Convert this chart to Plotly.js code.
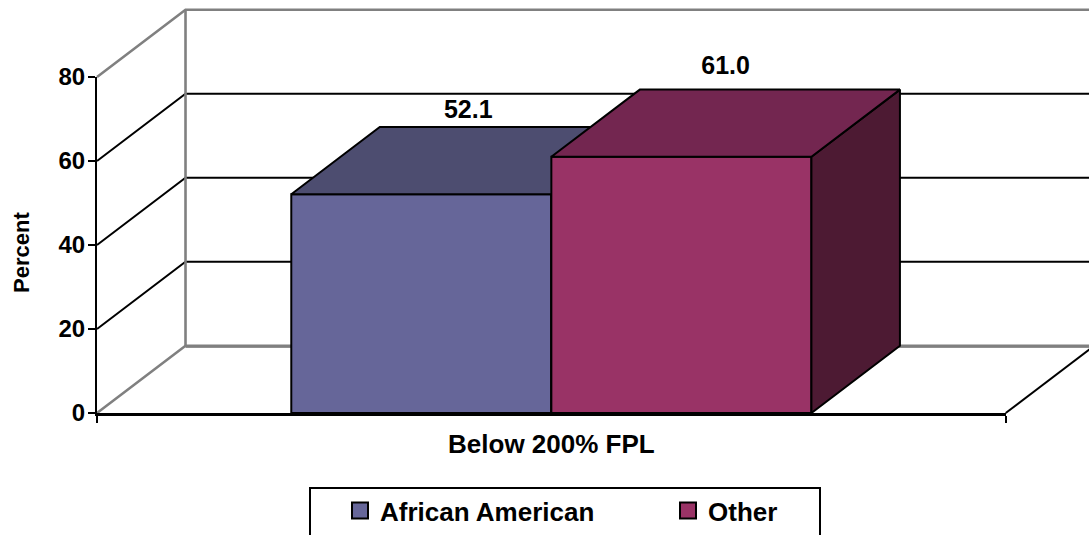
<!DOCTYPE html>
<html>
<head>
<meta charset="utf-8">
<script src="https://cdn.plot.ly/plotly-3.0.1.min.js"></script>
<style>html,body{margin:0;padding:0;background:#fff;overflow:hidden}</style>
</head>
<body>
<div id="chart" style="width:1089px;height:535px"></div>
<script>
var categories = ['Below 200% FPL'];
var seriesNames = ['African American', 'Other'];
var africanAmerican = [52.1];
var other = [61.0];
var valueLabels = ['52.1', '61.0'];
var labelPad = [0.75, 2.25];
var yTicks = [0, 20, 40, 60, 80];
var wallGrid = [20, 40, 60];
var frontColors = ['#666699', '#993366'];
var topColors = ['#4d4d70', '#732650'];
var sideColors = ['#4d4d70', '#4d1a33'];

var FONT = 'Liberation Sans, Arial, sans-serif';
var W = 1089, H = 535;
var plotL = 97, plotR = 1005.7, plotT = 77, plotB = 413;
var pxX = (plotR - plotL), pxY = (plotB - plotT) / 80;
var depthX = 0.0974, depthY = 16, barW = 0.2862, center = 0.5;
var farX = (W - plotL) / pxX;
var black = {color: '#000', width: 2};
var gray = {color: '#808080', width: 2.6};

function poly(xs, ys, color, ax) {
  return {type: 'scatter', mode: 'lines', x: xs, y: ys, fill: 'toself', fillcolor: color,
    line: black, cliponaxis: false, showlegend: false, hoverinfo: 'skip', xaxis: ax[0], yaxis: ax[1]};
}
function wallLine(level, line) {
  return {type: 'scatter', mode: 'lines', x: [0, depthX, farX], y: [level, level + depthY, level + depthY],
    line: line, showlegend: false, hoverinfo: 'skip'};
}
function plainLine(xs, ys, line) {
  return {type: 'scatter', mode: 'lines', x: xs, y: ys, line: line, showlegend: false, hoverinfo: 'skip'};
}
function barFront(values, i, offset, ax) {
  return {type: 'bar', x: [center], y: values, width: barW, offset: offset, name: seriesNames[i],
    textposition: 'none', hoverinfo: 'y+name',
    marker: {color: frontColors[i], line: black}, cliponaxis: false, showlegend: false,
    xaxis: ax[0], yaxis: ax[1]};
}
function barFaces(values, i, x0, ax) {
  var x1 = x0 + barW, v = values[0];
  return [
    poly([x1, x1 + depthX, x1 + depthX, x1, x1], [0, depthY, v + depthY, v, 0], sideColors[i], ax),
    poly([x0, x1, x1 + depthX, x0 + depthX, x0], [v, v, v + depthY, v + depthY, v], topColors[i], ax)
  ];
}
function legendEntry(i) {
  return {type: 'scatter', mode: 'markers', x: [null], y: [null], name: seriesNames[i],
    marker: {symbol: 'square', size: 16, color: frontColors[i], line: {color: '#000', width: 2}},
    xaxis: 'x3', yaxis: 'y3'};
}

var traces = [];
traces.push(plainLine([depthX, farX], [depthY - 0.22, depthY - 0.22], {color: '#222', width: 1.5}));
traces.push(wallLine(0, gray));
wallGrid.forEach(function (g) { traces.push(wallLine(g, black)); });
traces.push(wallLine(80, gray));
traces.push(plainLine([depthX, depthX], [depthY, 80 + depthY], gray));
traces.push(plainLine([1, 1 + depthX], [0, depthY], black));

var ax2 = ['x2', 'y2'], ax3 = ['x3', 'y3'];
traces.push(barFront(africanAmerican, 0, -barW, ax2));
traces = traces.concat(barFaces(africanAmerican, 0, center - barW, ax2));
traces.push(barFront(other, 1, 0, ax3));
traces = traces.concat(barFaces(other, 1, center, ax3));

traces.push({type: 'scatter', mode: 'text',
  x: [center - barW / 2 + depthX / 2 + 0.003, center + barW / 2 + depthX / 2],
  y: [africanAmerican[0] + depthY + labelPad[0], other[0] + depthY + labelPad[1]],
  text: valueLabels, textposition: 'top center',
  textfont: {family: FONT, size: 25, color: '#000', weight: 700},
  cliponaxis: false, showlegend: false, hoverinfo: 'skip', xaxis: 'x3', yaxis: 'y3'});
traces.push(legendEntry(0), legendEntry(1));

function hiddenX() { return {overlaying: 'x2', matches: 'x2', visible: false}; }
function hiddenY() { return {overlaying: 'y2', matches: 'y2', visible: false}; }

var layout = {
  width: W, height: H,
  margin: {l: 0, r: 0, t: 0, b: 0, autoexpand: false},
  paper_bgcolor: '#fff', plot_bgcolor: 'rgba(0,0,0,0)',
  font: {family: FONT, color: '#000'},
  showlegend: true,
  barmode: 'overlay',
  xaxis: {domain: [0, 1], anchor: 'y', range: [-plotL / pxX, farX], fixedrange: true, visible: false},
  yaxis: {domain: [0, 1], anchor: 'x', range: [-(H - plotB) / pxY, plotB / pxY], fixedrange: true, visible: false},
  xaxis2: {domain: [plotL / W, plotR / W], anchor: 'y2', range: [0, 1], fixedrange: true, showgrid: false, zeroline: false,
    showline: true, linecolor: '#000', linewidth: 3,
    tickmode: 'array', tickvals: [center], ticktext: categories, ticks: '',
    ticklabelstandoff: 6,
    tickfont: {family: FONT, size: 26, color: '#000', weight: 700},
    minor: {tickmode: 'array', tickvals: [0, 1], ticks: 'outside', ticklen: 7, tickwidth: 2, tickcolor: '#000'}},
  yaxis2: {domain: [(H - plotB) / H, (H - plotT) / H], anchor: 'x2', range: [0, 80], fixedrange: true, showgrid: false, zeroline: false,
    showline: true, linecolor: '#000', linewidth: 2,
    tickmode: 'array', tickvals: yTicks, ticks: 'outside', ticklen: 7, tickwidth: 2, tickcolor: '#000',
    ticklabelstandoff: -2,
    tickfont: {family: FONT, size: 24, color: '#000', weight: 700}},
  xaxis3: hiddenX(), yaxis3: hiddenY(),
  legend: {orientation: 'h', x: 340 / W, y: (H - 487) / H, xanchor: 'left', yanchor: 'top',
    entrywidth: 283, entrywidthmode: 'pixels', itemsizing: 'trace',
    bgcolor: 'rgba(0,0,0,0)', borderwidth: 0,
    font: {family: FONT, size: 26, color: '#000', weight: 700}},
  shapes: [{type: 'rect', xref: 'paper', yref: 'paper', x0: 310 / W, x1: 820 / W, y0: (H - 488) / H, y1: -0.05,
    line: {color: '#000', width: 2}, fillcolor: 'rgba(0,0,0,0)', layer: 'below'}],
  annotations: [{xref: 'paper', yref: 'paper', x: 21 / W, y: (H - 253) / H, xanchor: 'center', yanchor: 'middle',
    textangle: -90, showarrow: false, text: 'Percent',
    font: {family: FONT, size: 22, color: '#000', weight: 700}}]
};

Plotly.newPlot('chart', traces, layout, {displayModeBar: false, responsive: false});
</script>
</body>
</html>
